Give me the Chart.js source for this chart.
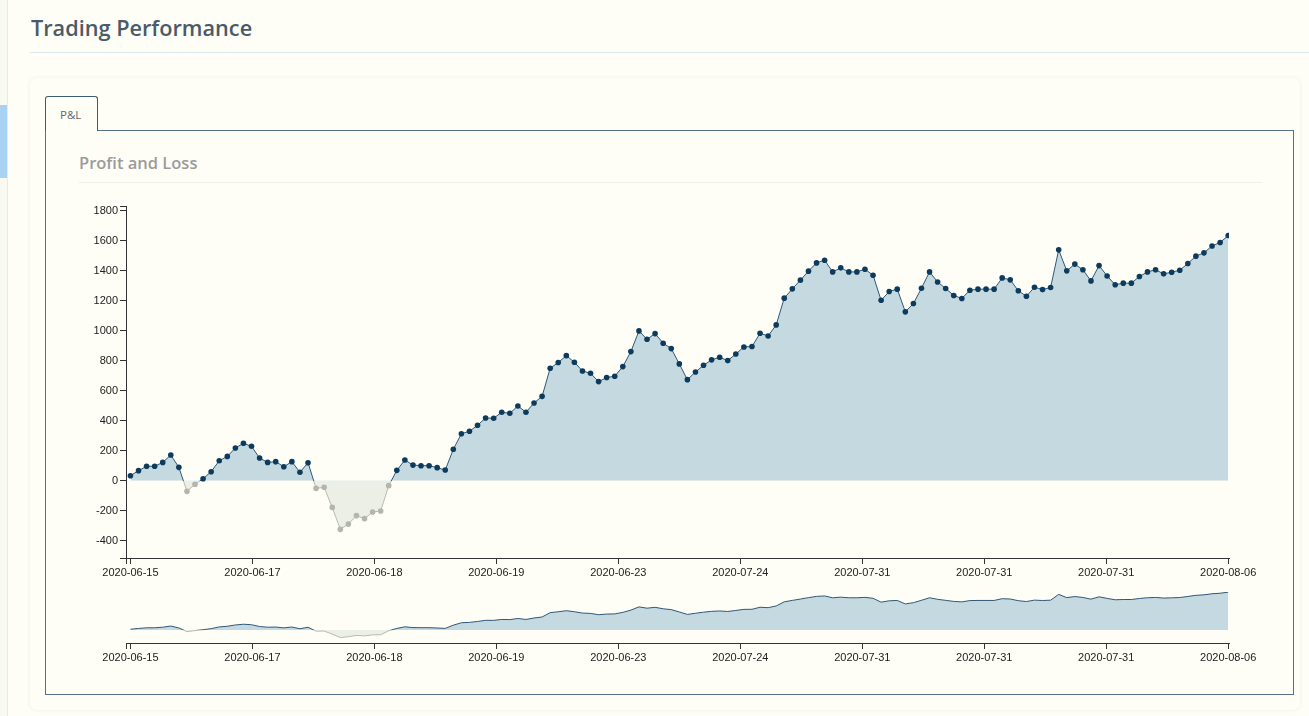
<!DOCTYPE html>
<html>
<head>
<meta charset="utf-8">
<title>Trading Performance</title>
<script src="https://cdn.jsdelivr.net/npm/chart.js@4"></script>
<style>
  body { margin: 0; width: 1309px; height: 716px; overflow: hidden; background: #fefef7; font-family: "Open Sans", sans-serif; position: relative; }
  .abs { position: absolute; }
  #strip { left: 0; top: 0; width: 7px; height: 716px; background: #f8f9f0; border-right: 1px solid #e9ebe1; }
  #strip-blue { left: 0; top: 105px; width: 7px; height: 73px; background: #a9d2f2; }
  #title { left: 31px; top: 13px; font-size: 21.7px; font-weight: 600; color: #4b5a69; }
  #title-rule { left: 30px; top: 52px; width: 1279px; height: 1px; background: #dbe7ee; }
  #panel { left: 30px; top: 78px; width: 1270px; height: 632px; border-radius: 7px; box-shadow: 0 0 4px #eceee2; background: #fefef7; }
  #box { left: 45px; top: 130px; width: 1247px; height: 563px; border: 1.5px solid #56728a; }
  #tab { left: 45px; top: 96px; width: 53px; height: 35px; border: 1.5px solid #3e5c72; border-bottom: none; border-radius: 3px 3px 0 0; background: #fefef7; font-size: 11.5px; color: #666; box-sizing: border-box; padding: 10px 0 0 14px; }
  #sub { left: 79px; top: 151px; font-size: 16.5px; font-weight: 600; color: #9b9b9b; }
  #sub-rule { left: 79px; top: 182px; width: 1183px; height: 1px; background: #f0f0e7; }
  #main { left: 60px; top: 195px; }
  #mini { left: 60px; top: 584px; }
</style>
</head>
<body>
<div class="abs" id="strip"></div>
<div class="abs" id="strip-blue"></div>
<div class="abs" id="title">Trading Performance</div>
<div class="abs" id="title-rule"></div>
<div class="abs" id="panel"></div>
<div class="abs" id="box"></div>
<div class="abs" id="tab">P&amp;L</div>
<div class="abs" id="sub">Profit and Loss</div>
<div class="abs" id="sub-rule"></div>
<canvas class="abs" id="main" width="1210" height="386"></canvas>
<canvas class="abs" id="mini" width="1210" height="82"></canvas>
<script>
// cumulative P&L, one value per trade
var pnl = [33, 67, 96, 96, 122, 171, 89, -71, -24, 13,
    60, 133, 162, 218, 249, 229, 151, 122, 127, 93,
    127, 56, 120, -51, -44, -178, -324, -289, -233, -253,
    -209, -202, -33, 69, 138, 104, 100, 100, 87, 71,
    209, 313, 329, 369, 418, 416, 456, 449, 498, 456,
    518, 562, 749, 787, 833, 789, 731, 716, 660, 687,
    696, 760, 860, 998, 942, 980, 916, 880, 778, 673,
    724, 769, 805, 822, 800, 844, 891, 894, 982, 964,
    1038, 1216, 1278, 1336, 1396, 1451, 1469, 1391, 1418, 1391,
    1391, 1409, 1369, 1202, 1260, 1276, 1125, 1180, 1282, 1391,
    1324, 1280, 1234, 1214, 1269, 1276, 1276, 1276, 1351, 1338,
    1265, 1229, 1289, 1273, 1287, 1538, 1398, 1443, 1405, 1331,
    1433, 1364, 1305, 1316, 1316, 1360, 1391, 1405, 1378, 1389,
    1402, 1447, 1496, 1518, 1564, 1587, 1633];

var xTickLabels = ['2020-06-15', '2020-06-17', '2020-06-18', '2020-06-19', '2020-06-23',
    '2020-07-24', '2020-07-31', '2020-07-31', '2020-07-31', '2020-08-06'];

var yTicks = [-400, -200, 0, 200, 400, 600, 800, 1000, 1200, 1400, 1600, 1800];

var lastIdx = pnl.length - 1;
var xStep = lastIdx / (xTickLabels.length - 1);
var points = pnl.map(function(v, i) { return { x: i, y: v }; });

var upLine = '#2f5775', downLine = '#b8b9b1';
var upFill = '#c5d9e1', downFill = '#ebefe5';
var upDot = '#0c3b5e', downDot = '#b4b5ad';

Chart.defaults.font.family = '"Liberation Sans", Arial, sans-serif';
Chart.defaults.font.size = 11;
Chart.defaults.color = '#222';

// line colour switches at the zero line
function splitColor(chart) {
    var area = chart.chartArea;
    if (!area) return upLine;
    var y0 = chart.scales.y.getPixelForValue(0);
    var f = (y0 - area.top) / (area.bottom - area.top);
    f = Math.max(0, Math.min(1, f));
    var g = chart.ctx.createLinearGradient(0, area.top, 0, area.bottom);
    g.addColorStop(0, upLine);
    g.addColorStop(f, upLine);
    g.addColorStop(f, downLine);
    g.addColorStop(1, downLine);
    return g;
}

function xAxis(min, max) {
    return {
        type: 'linear',
        min: min,
        max: max,
        afterBuildTicks: function(scale) {
            var t = [{ value: min }];
            for (var k = 0; k < xTickLabels.length; k++) t.push({ value: k * xStep });
            scale.ticks = t;
        },
        afterFit: function(scale) { scale.height = 23; },
        ticks: {
            autoSkip: false,
            maxRotation: 0,
            padding: 2,
            color: '#222',
            callback: function(value) {
                var k = Math.round(value / xStep);
                if (Math.abs(value - k * xStep) > 0.01) return '';
                return xTickLabels[k];
            }
        },
        grid: { drawOnChartArea: false, tickLength: 6, color: '#333' },
        border: { display: true, color: '#333' }
    };
}

function dataset(withDots) {
    return {
        data: points,
        borderWidth: 1,
        tension: 0,
        borderColor: function(ctx) { return splitColor(ctx.chart); },
        fill: { target: 'origin', above: upFill, below: downFill },
        pointRadius: withDots ? 2.8 : 0,
        pointBorderWidth: 0,
        pointBackgroundColor: function(ctx) { return ctx.raw && ctx.raw.y < 0 ? downDot : upDot; },
        pointBorderColor: function(ctx) { return ctx.raw && ctx.raw.y < 0 ? downDot : upDot; }
    };
}

new Chart(document.getElementById('main').getContext('2d'), {
    type: 'line',
    data: { datasets: [dataset(true)] },
    options: {
        responsive: false,
        animation: false,
        layout: { padding: { left: 0, right: 41, top: 11, bottom: 0 } },
        plugins: { legend: { display: false }, tooltip: { enabled: false } },
        scales: {
            x: xAxis(-0.55, lastIdx + 0.1),
            y: {
                min: -515,
                max: 1830,
                afterBuildTicks: function(scale) {
                    var t = [{ value: -515 }];
                    yTicks.forEach(function(v) { t.push({ value: v }); });
                    t.push({ value: 1830 });
                    scale.ticks = t;
                },
                afterFit: function(scale) { scale.width = 66; },
                ticks: {
                    padding: 2,
                    color: '#222',
                    callback: function(value) { return yTicks.indexOf(value) >= 0 ? String(value) : ''; }
                },
                grid: { drawOnChartArea: false, tickLength: 6, color: '#333' },
                border: { display: true, color: '#333' }
            }
        }
    }
});

new Chart(document.getElementById('mini').getContext('2d'), {
    type: 'line',
    data: { datasets: [dataset(false)] },
    options: {
        responsive: false,
        animation: false,
        layout: { padding: { left: 66, right: 41, top: 8, bottom: 0 } },
        plugins: { legend: { display: false }, tooltip: { enabled: false } },
        scales: {
            x: xAxis(-0.55, lastIdx + 0.1),
            y: { display: false, min: -560, max: 1640 }
        }
    }
});
</script>
</body>
</html>
